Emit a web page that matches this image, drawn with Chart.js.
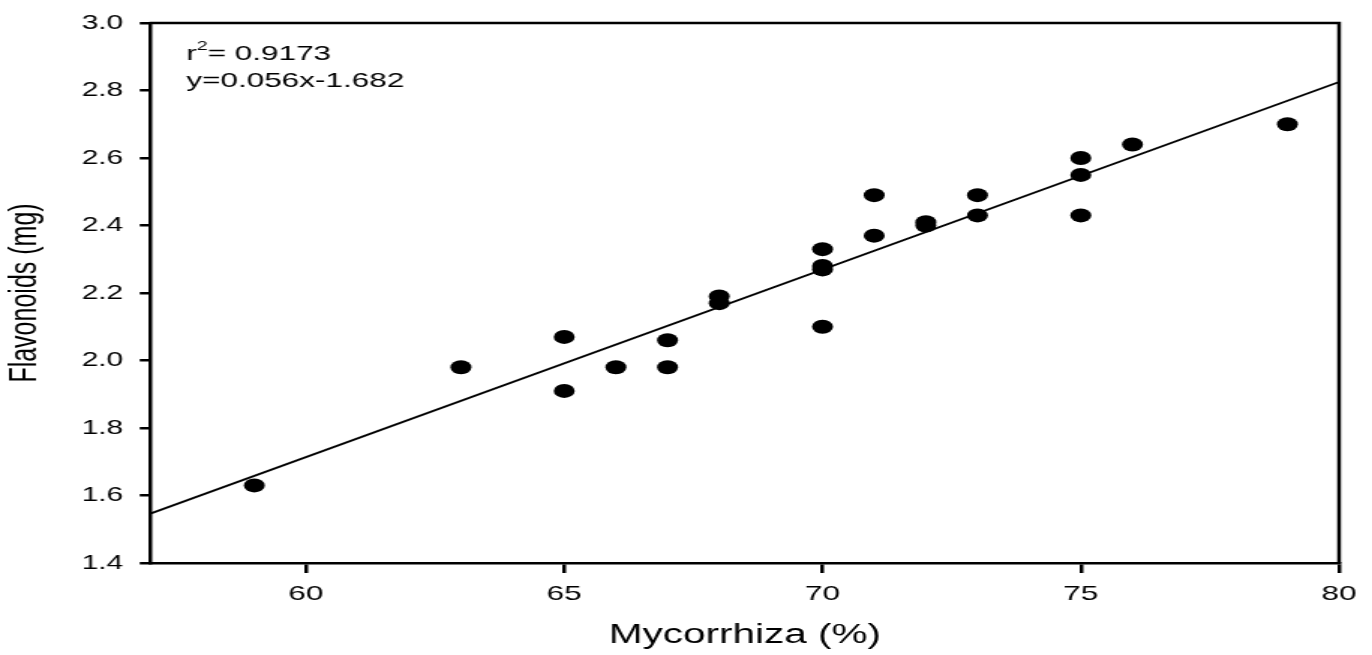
<!DOCTYPE html>
<html>
<head>
<meta charset="utf-8">
<script src="https://cdn.jsdelivr.net/npm/chart.js@4.4.1/dist/chart.umd.min.js"></script>
<style>
  html, body { margin: 0; padding: 0; background: #fff; overflow: hidden; }
  /* the reference figure is stretched sideways, so the chart is drawn narrow and widened */
  #wrap { width: 915px; height: 655px; transform: scaleX(1.4995); transform-origin: 0 0; }
</style>
</head>
<body>
<div id="wrap"><canvas id="flavChart" width="915" height="655"></canvas></div>
<script>
// Mycorrhiza (%) vs flavonoids (mg)
const mycorrhiza = [59, 63, 65, 65, 66, 67, 67, 68, 68, 70, 70, 70, 70, 71, 71, 72, 72, 73, 73, 75, 75, 75, 76, 79];
const flavonoids = [1.63, 1.98, 2.07, 1.91, 1.98, 2.06, 1.98, 2.19, 2.17, 2.33, 2.28, 2.27, 2.10, 2.49, 2.37, 2.41, 2.40, 2.49, 2.43, 2.60, 2.55, 2.43, 2.64, 2.70];

// regression line as drawn (ends at the axis limits)
const fitX = [57, 80];
const fitY = [1.547, 2.825];

const xTicks = [60, 65, 70, 75, 80];
const yTicks = [1.4, 1.6, 1.8, 2.0, 2.2, 2.4, 2.6, 2.8, 3.0];

const statLines = ["= 0.9173", "y=0.056x-1.682"];

const FONT = "'Liberation Sans', Arial, sans-serif";

// top and right frame lines + r2 / equation text
const framePlugin = {
  id: "frame",
  afterDraw(chart) {
    const { ctx, chartArea } = chart;
    ctx.save();
    ctx.strokeStyle = "#000";
    ctx.lineWidth = 2.5;
    ctx.beginPath();
    ctx.moveTo(chartArea.left - 1, chartArea.top);
    ctx.lineTo(chartArea.right, chartArea.top);
    ctx.lineTo(chartArea.right, chartArea.bottom);
    ctx.stroke();

    ctx.fillStyle = "#000";
    ctx.textBaseline = "alphabetic";
    let x = chartArea.left + 23.5;
    ctx.font = "21px " + FONT;
    ctx.fillText("r", x, chartArea.top + 37);
    x += ctx.measureText("r").width;
    ctx.font = "13px " + FONT;
    ctx.fillText("2", x, chartArea.top + 27);
    x += ctx.measureText("2").width;
    ctx.font = "21px " + FONT;
    ctx.fillText(statLines[0], x, chartArea.top + 37);
    ctx.fillText(statLines[1], chartArea.left + 23.5, chartArea.top + 64);
    ctx.restore();
  },
};

const ctx = document.getElementById("flavChart").getContext("2d");

new Chart(ctx, {
  type: "scatter",
  data: {
    datasets: [
      {
        label: "Flavonoids",
        data: mycorrhiza.map((m, i) => ({ x: m, y: flavonoids[i] })),
        pointRadius: 7,
        pointBorderWidth: 0,
        pointBackgroundColor: "#000",
        borderColor: "#000",
        order: 1,
      },
      {
        label: "Fit",
        type: "line",
        data: fitX.map((v, i) => ({ x: v, y: fitY[i] })),
        borderColor: "#000",
        borderWidth: 1.8,
        pointRadius: 0,
        fill: false,
        order: 2,
      },
    ],
  },
  options: {
    responsive: false,
    animation: false,
    devicePixelRatio: 1,
    layout: {
      padding: { top: 18, right: 22, left: 0, bottom: 0 },
    },
    plugins: {
      legend: { display: false },
      tooltip: { enabled: false },
    },
    scales: {
      x: {
        type: "linear",
        min: 57,
        max: 80,
        afterBuildTicks: (scale) => {
          scale.ticks = xTicks.map((v) => ({ value: v }));
        },
        afterFit: (scale) => {
          scale.height = 92;
        },
        ticks: {
          color: "#000",
          padding: 9,
          maxRotation: 0,
          font: { family: FONT, size: 21 },
          callback: (v) => String(v),
        },
        grid: {
          drawOnChartArea: false,
          drawTicks: true,
          tickLength: 10,
          color: "#000",
          lineWidth: 2.5,
        },
        border: { display: true, color: "#000", width: 2.5 },
        title: {
          display: true,
          text: "Mycorrhiza (%)",
          color: "#000",
          font: { family: FONT, size: 27 },
          padding: { top: 0, bottom: 3 },
        },
      },
      y: {
        type: "linear",
        min: 1.4,
        max: 3.0,
        afterBuildTicks: (scale) => {
          scale.ticks = yTicks.map((v) => ({ value: v }));
        },
        afterFit: (scale) => {
          scale.width = 100.7;
        },
        ticks: {
          color: "#000",
          padding: 11,
          font: { family: FONT, size: 20 },
          callback: (v) => Number(v).toFixed(1),
        },
        grid: {
          drawOnChartArea: false,
          drawTicks: true,
          tickLength: 7.5,
          color: "#000",
          lineWidth: 2.5,
        },
        border: { display: true, color: "#000", width: 2.5 },
        title: {
          display: true,
          text: "Flavonoids (mg)",
          color: "#000",
          font: { family: FONT, size: 25 },
          padding: { top: 2, bottom: 0 },
        },
      },
    },
  },
  plugins: [framePlugin],
});
</script>
</body>
</html>
